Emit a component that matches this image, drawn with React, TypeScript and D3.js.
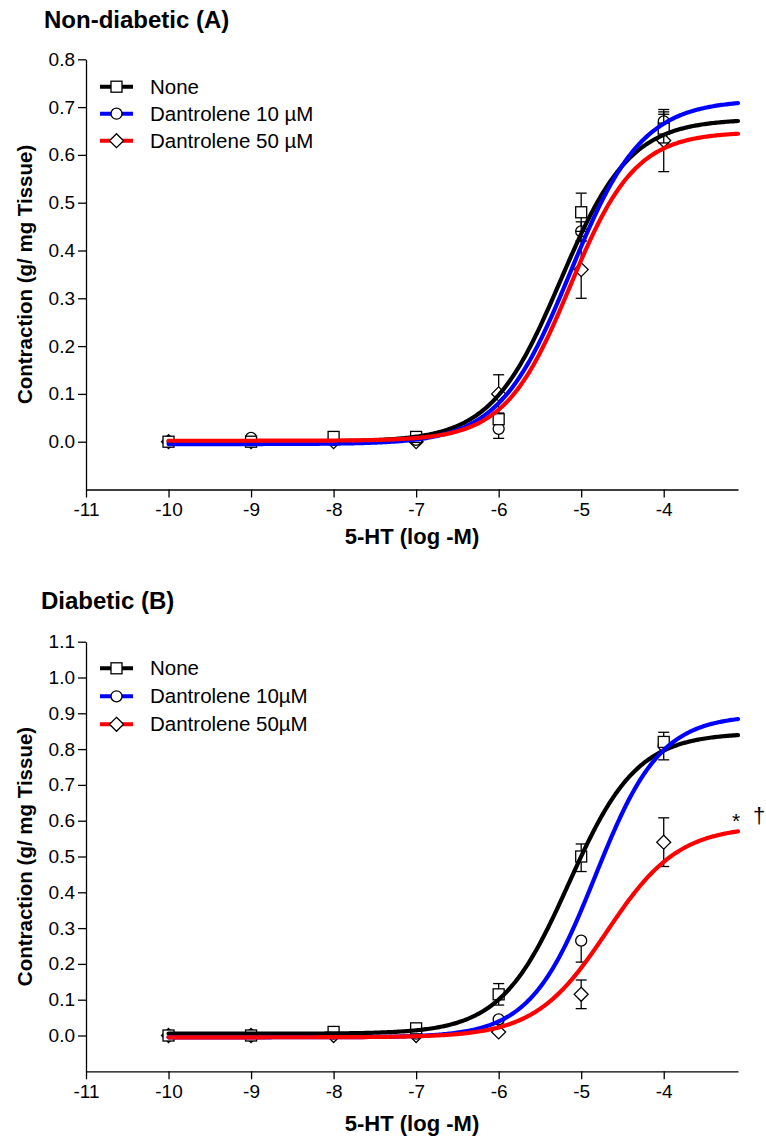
import React, { useRef, useEffect } from 'react';
import * as d3 from 'd3';

// doses (log M) used for every group
const doses = [-10, -9, -8, -7, -6, -5, -4];
const xTicks = [-11, -10, -9, -8, -7, -6, -5, -4];
const seriesColors = ['#000000', '#0000ff', '#ff0000'];
const seriesShapes = ['square', 'circle', 'diamond'];

// Panel A - non-diabetic
const legendA = ['None', 'Dantrolene 10 \u00b5M', 'Dantrolene 50 \u00b5M'];
const aNone = [0, 0, 0.01, 0.01, 0.047, 0.48, 0.655];
const aNoneErr = [0, 0, 0, 0, 0.008, 0.04, 0.03];
const aD10 = [0, 0.008, 0.004, 0.004, 0.027, 0.44, 0.67];
const aD10Err = [0, 0, 0, 0, 0.02, 0.02, 0.02];
const aD50 = [0, 0, 0, 0, 0.1, 0.36, 0.63];
const aD50Err = [0, 0, 0, 0, 0.04, 0.06, 0.065];
// fitted curves: [bottom, top, logEC50, hill]
const aFits = [
  [0.0, 0.675, -5.25, 1.03],
  [-0.005, 0.715, -5.13, 1.0],
  [0.002, 0.648, -5.135, 1.1],
];
const aYTicks = [0, 0.1, 0.2, 0.3, 0.4, 0.5, 0.6, 0.7, 0.8];

// Panel B - diabetic
const legendB = ['None', 'Dantrolene 10\u00b5M', 'Dantrolene 50\u00b5M'];
const bNone = [0, 0, 0.01, 0.02, 0.115, 0.5, 0.82];
const bNoneErrUp = [0, 0, 0, 0, 0.03, 0.035, 0.027];
const bNoneErrDown = [0, 0, 0, 0, 0.03, 0.042, 0.05];
const bD10 = [0, 0, 0.005, 0.005, 0.045, 0.265, 0.81];
const bD10ErrUp = [0, 0, 0, 0, 0, 0, 0.005];
const bD10ErrDown = [0, 0, 0, 0, 0.01, 0.06, 0.005];
const bD50 = [0, 0, 0, 0, 0.01, 0.115, 0.54];
const bD50Err = [0, 0, 0, 0, 0, 0.04, 0.068];
const bFits = [
  [0.005, 0.845, -5.15, 1.05],
  [-0.005, 0.895, -4.83, 1.1],
  [-0.005, 0.585, -4.69, 1.0],
];
const bYTicks = [0, 0.1, 0.2, 0.3, 0.4, 0.5, 0.6, 0.7, 0.8, 0.9, 1.0, 1.1];

const FONT = 'Arial, "Liberation Sans", sans-serif';

const logistic = (p: number[], x: number) =>
  p[0] + (p[1] - p[0]) / (1 + Math.pow(10, (p[2] - x) * p[3]));

const drawSymbol = (g: any, shape: string, cx: number, cy: number) => {
  if (shape === 'square') {
    g.append('rect').attr('x', cx - 5.5).attr('y', cy - 5.5).attr('width', 11).attr('height', 11)
      .attr('fill', 'white').attr('stroke', 'black').attr('stroke-width', 1.3);
  } else if (shape === 'circle') {
    g.append('circle').attr('cx', cx).attr('cy', cy).attr('r', 5.5)
      .attr('fill', 'white').attr('stroke', 'black').attr('stroke-width', 1.3);
  } else {
    const r = 7;
    g.append('path')
      .attr('d', `M${cx},${cy - r}L${cx + r},${cy}L${cx},${cy + r}L${cx - r},${cy}Z`)
      .attr('fill', 'white').attr('stroke', 'black').attr('stroke-width', 1.3);
  }
};

const App = () => {
  const svgRef = useRef<SVGSVGElement>(null);

  useEffect(() => {
    const svg = d3.select(svgRef.current);
    svg.selectAll('*').remove();

    const x = d3.scaleLinear().domain([-11, -3.1]).range([86, 738]);

    const panels = [
      {
        title: 'Non-diabetic (A)', titleX: 44, titleY: 28, xLabelY: 544,
        y: d3.scaleLinear().domain([-0.1, 0.8]).range([489.5, 59.3]),
        yTicks: aYTicks, legend: legendA, legendY: 86.7, legendStep: 27,
        values: [aNone, aD10, aD50],
        errUp: [aNoneErr, aD10Err, aD50Err],
        errDown: [aNoneErr, aD10Err, aD50Err],
        fits: aFits,
      },
      {
        title: 'Diabetic (B)', titleX: 41, titleY: 609, xLabelY: 1131,
        y: d3.scaleLinear().domain([-0.1, 1.1]).range([1071.3, 641.7]),
        yTicks: bYTicks, legend: legendB, legendY: 668.3, legendStep: 28,
        values: [bNone, bD10, bD50],
        errUp: [bNoneErrUp, bD10ErrUp, bD50Err],
        errDown: [bNoneErrDown, bD10ErrDown, bD50Err],
        fits: bFits,
      },
    ];

    panels.forEach((p, pi) => {
      const g = svg.append('g');
      const y = p.y;
      const [yBottom, yTop] = y.range();

      // title
      g.append('text')
        .attr('x', p.titleX).attr('y', p.titleY)
        .attr('font-family', FONT).attr('font-size', 24).attr('font-weight', 'bold')
        .text(p.title);

      // y axis
      const yAxis = g.append('g')
        .attr('transform', `translate(${x.range()[0]},0)`)
        .call(d3.axisLeft(y).tickValues(p.yTicks).tickFormat(d3.format('.1f')).tickSize(8).tickSizeOuter(0).tickPadding(3));
      yAxis.selectAll('text').attr('font-family', FONT).attr('font-size', 19).attr('fill', 'black');
      yAxis.selectAll('line, path').attr('stroke', 'black').attr('stroke-width', 1.3);

      // x axis
      const xAxis = g.append('g')
        .attr('transform', `translate(0,${yBottom})`)
        .call(d3.axisBottom(x).tickValues(xTicks).tickFormat(d3.format('d')).tickSize(8).tickSizeOuter(0).tickPadding(5));
      xAxis.selectAll('text').attr('font-family', FONT).attr('font-size', 19).attr('fill', 'black')
        .text((d: any) => String(d));
      xAxis.selectAll('line, path').attr('stroke', 'black').attr('stroke-width', 1.3);

      // axis labels
      g.append('text')
        .attr('x', (x.range()[0] + x.range()[1]) / 2).attr('y', p.xLabelY)
        .attr('text-anchor', 'middle')
        .attr('font-family', FONT).attr('font-size', 22).attr('font-weight', 'bold')
        .text('5-HT (log -M)');
      g.append('text')
        .attr('transform', `translate(32,${(yBottom + yTop) / 2}) rotate(-90)`)
        .attr('text-anchor', 'middle')
        .attr('font-family', FONT).attr('font-size', 20.5).attr('font-weight', 'bold')
        .text('Contraction (g/ mg Tissue)');

      // error bars and symbols (None drawn last, on top)
      [2, 1, 0].forEach(si => {
        const vals = p.values[si];
        vals.forEach((v, i) => {
          const cx = x(doses[i]);
          const up = p.errUp[si][i];
          const down = p.errDown[si][i];
          if (up > 0 || down > 0) {
            const y1 = y(v + up);
            const y2 = y(v - down);
            g.append('line').attr('x1', cx).attr('x2', cx).attr('y1', y1).attr('y2', y2)
              .attr('stroke', 'black').attr('stroke-width', 1.3);
            if (up > 0) g.append('line').attr('x1', cx - 5.5).attr('x2', cx + 5.5).attr('y1', y1).attr('y2', y1)
              .attr('stroke', 'black').attr('stroke-width', 1.3);
            if (down > 0) g.append('line').attr('x1', cx - 5.5).attr('x2', cx + 5.5).attr('y1', y2).attr('y2', y2)
              .attr('stroke', 'black').attr('stroke-width', 1.3);
          }
          drawSymbol(g, seriesShapes[si], cx, y(v));
        });
      });

      // fitted curves
      const xs = d3.range(-10, -3.1 + 1e-9, 0.02);
      const line = d3.line<number>().x(d => x(d)).curve(d3.curveLinear);
      p.fits.forEach((f, si) => {
        g.append('path')
          .attr('d', line.y(d => y(logistic(f, d)))(xs))
          .attr('fill', 'none').attr('stroke', seriesColors[si]).attr('stroke-width', 4.2)
          .attr('stroke-linecap', 'round');
      });

      // legend
      p.legend.forEach((name, si) => {
        const ly = p.legendY + si * p.legendStep;
        g.append('line').attr('x1', 100).attr('x2', 133).attr('y1', ly).attr('y2', ly)
          .attr('stroke', seriesColors[si]).attr('stroke-width', 4);
        drawSymbol(g, seriesShapes[si], 116.5, ly);
        g.append('text')
          .attr('x', 150).attr('y', ly + 7)
          .attr('font-family', FONT).attr('font-size', 20.5)
          .text(name);
      });

      // significance marks
      if (pi === 1) {
        const endY = y(logistic(p.fits[2], -3.1));
        g.append('text').attr('x', 736).attr('y', endY - 3).attr('text-anchor', 'middle')
          .attr('font-family', FONT).attr('font-size', 21).text('*');
        g.append('text').attr('x', 759).attr('y', endY - 8).attr('text-anchor', 'middle')
          .attr('font-family', FONT).attr('font-size', 22).text('\u2020');
      }
    });
  }, []);

  return (
    <svg ref={svgRef} width={766} height={1138}
      style={{ position: 'absolute', left: 0, top: 0, background: 'white' }} />
  );
};

export default App;
